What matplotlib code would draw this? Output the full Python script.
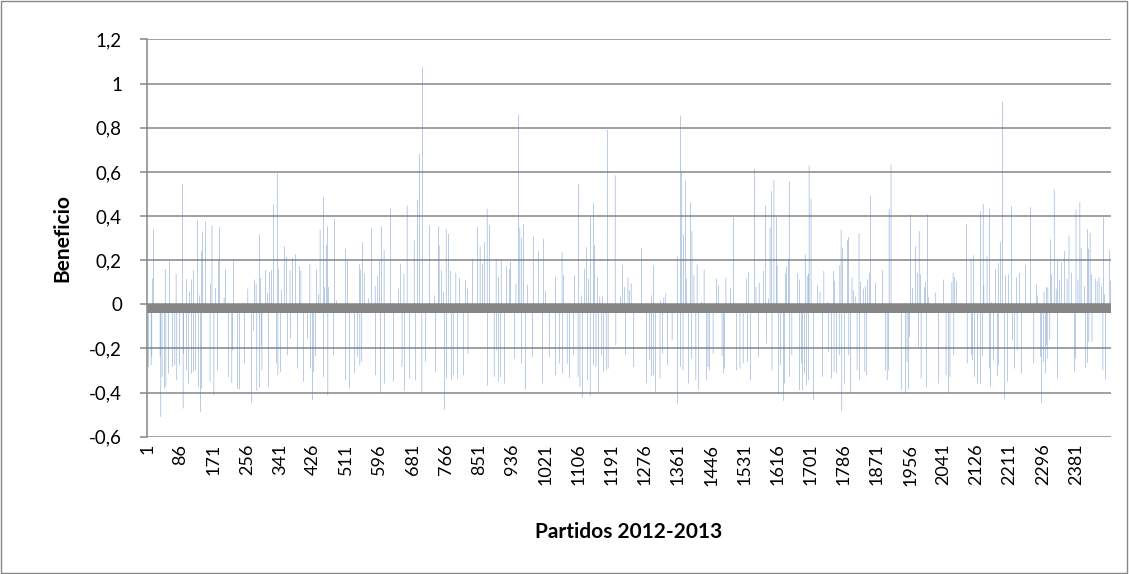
import numpy as np
import matplotlib
matplotlib.use("Agg")
import matplotlib.pyplot as plt
from matplotlib.patches import Rectangle

# Number of matches on the category axis
n_partidos = 2470

# Category labels shown on the x axis (every 85th match)
etiquetas_x = [1, 86, 171, 256, 341, 426, 511, 596, 681, 766, 851, 936, 1021,
               1106, 1191, 1276, 1361, 1446, 1531, 1616, 1701, 1786, 1871,
               1956, 2041, 2126, 2211, 2296, 2381]
etiquetas_y = [-0.6, -0.4, -0.2, 0, 0.2, 0.4, 0.6, 0.8, 1, 1.2]

# (match number, profit); other matches ~0
picos = [
    (4, -0.284), (11, -0.276), (13, -0.238), (15, 0.116), (17, 0.34), (34, -0.238),
    (36, -0.51), (39, -0.329), (45, -0.382), (47, 0.16), (49, -0.374), (56, -0.314),
    (58, 0.196), (66, -0.284), (72, -0.276), (75, 0.139), (77, -0.344), (83, -0.276),
    (91, 0.546), (93, -0.472), (94, -0.223), (101, 0.113), (102, -0.299), (107, -0.359),
    (109, 0.056), (114, -0.314), (115, 0.113), (119, 0.154), (120, -0.306), (125, -0.299),
    (130, 0.38), (133, -0.374), (135, 0.04), (138, -0.487), (140, -0.382), (141, 0.241),
    (143, 0.33), (150, 0.376), (162, -0.351), (163, 0.094), (167, 0.357), (172, -0.412),
    (176, 0.074), (181, -0.299), (183, 0.207), (186, 0.35),
    (198, 0.03), (201, 0.161), (210, -0.329), (218, -0.356), (220, -0.208), (222, 0.199),
    (232, -0.382), (237, -0.386), (251, -0.268), (259, 0.071), (268, -0.446), (273, -0.118),
    (276, 0.112), (280, 0.094), (282, -0.392), (288, 0.317), (289, -0.377), (292, 0.119),
    (293, -0.186), (295, -0.299), (304, 0.157), (309, 0.053), (312, -0.374), (314, 0.146),
    (319, 0.154), (324, 0.452), (333, -0.268), (334, 0.594), (336, -0.321), (338, 0.161),
    (343, -0.306), (345, 0.066), (352, 0.264), (358, 0.214), (360, -0.231), (367, 0.154),
    (369, -0.155), (374, 0.21), (381, 0.225), (386, -0.291), (391, 0.172), (395, 0.151),
    (401, -0.351), (411, -0.155), (418, 0.184), (419, -0.291), (425, -0.434), (428, -0.306),
    (433, -0.235), (435, 0.158), (440, 0.045), (444, 0.338), (452, 0.486), (453, -0.329),
    (456, 0.078), (461, 0.267), (463, 0.353), (464, -0.412), (466, 0.078), (478, -0.231),
    (481, 0.388), (486, 0.018), (509, 0.252), (510, -0.344), (514, 0.199), (519, -0.382),
    (533, -0.311), (539, -0.238), (545, 0.181), (546, -0.276), (548, 0.157), (551, -0.261),
    (552, 0.282), (557, 0.139), (568, 0.026), (575, 0.347), (585, 0.083), (586, -0.321),
    (592, 0.127), (597, 0.199), (599, -0.401), (601, 0.353),
    (608, 0.247), (609, -0.359), (625, 0.433), (632, -0.351), (645, 0.071), (650, 0.184),
    (654, -0.284), (659, 0.139), (660, -0.392), (667, 0.448), (674, -0.336), (685, 0.29),
    (688, -0.344), (693, 0.474), (698, 0.682), (705, -0.397), (706, 1.074), (715, -0.261),
    (724, 0.357), (737, 0.04), (739, -0.306), (747, 0.354), (749, 0.267), (755, 0.154),
    (760, 0.056), (762, -0.477), (767, 0.34), (768, -0.336), (773, 0.32), (779, 0.151),
    (780, -0.344), (785, -0.321), (792, 0.143), (797, -0.336), (802, 0.119),
    (811, -0.321), (816, 0.109), (821, 0.071), (823, -0.223), (835, 0.207), (847, 0.35),
    (854, 0.262), (860, 0.184), (865, 0.282), (872, 0.433), (873, -0.367), (878, 0.357),
    (890, -0.329), (895, 0.207), (896, -0.208), (901, 0.124), (902, -0.351), (907, -0.329),
    (908, 0.199), (917, -0.359), (922, 0.172), (929, 0.161), (932, 0.192), (943, -0.246),
    (946, 0.094), (953, 0.86), (956, 0.347), (960, -0.268), (961, 0.302), (965, 0.365),
    (970, -0.386), (975, 0.089), (989, -0.238), (990, 0.309), (1003, 0.241),
    (1014, -0.359), (1016, 0.297), (1021, 0.06), (1031, -0.238), (1047, 0.124), (1048, -0.321),
    (1057, -0.268), (1064, 0.237), (1065, -0.314), (1067, 0.131), (1077, -0.268), (1083, -0.332),
    (1093, -0.231), (1096, 0.131), (1105, -0.329), (1106, 0.546), (1110, -0.374), (1113, 0.04),
    (1116, -0.422), (1122, 0.161), (1127, 0.259), (1129, -0.344), (1132, 0.116), (1136, -0.416),
    (1137, 0.395), (1144, 0.46), (1145, -0.276), (1147, 0.267), (1151, -0.284), (1154, 0.124),
    (1158, -0.397), (1161, 0.036), (1166, -0.231), (1168, 0.036), (1171, -0.306), (1177, -0.299),
    (1180, 0.79), (1182, -0.291), (1200, 0.584), (1202, -0.186), (1214, 0.036),
    (1219, 0.176), (1224, 0.078), (1226, -0.231), (1233, 0.121), (1236, 0.063), (1241, 0.094),
    (1248, -0.284), (1267, 0.256), (1281, -0.356), (1289, -0.253), (1293, 0.04), (1294, -0.326),
    (1298, -0.321), (1299, 0.176), (1303, -0.397), (1315, -0.336), (1317, 0.018), (1322, -0.223),
    (1325, 0.03), (1330, 0.048), (1334, -0.276), (1346, -0.163), (1359, 0.217), (1360, -0.449),
    (1367, -0.284), (1368, 0.855), (1371, 0.599), (1374, -0.299), (1375, 0.317), (1380, 0.561),
    (1383, 0.116), (1388, -0.359), (1393, 0.463), (1395, -0.246), (1397, 0.332), (1402, 0.131),
    (1407, -0.344), (1410, 0.181), (1414, -0.389), (1421, 0.011),
    (1428, 0.157), (1434, -0.341), (1438, -0.284), (1441, -0.299), (1451, -0.223), (1460, 0.116),
    (1465, 0.086), (1474, -0.235), (1477, -0.314), (1481, -0.291), (1484, 0.121), (1496, 0.075),
    (1503, 0.395), (1511, -0.299), (1520, -0.291), (1528, -0.268), (1537, 0.116), (1539, -0.261),
    (1542, 0.146), (1547, -0.344), (1557, 0.614), (1561, 0.078), (1568, -0.238), (1569, 0.098),
    (1580, 0.151), (1585, 0.448), (1588, -0.178), (1593, 0.026), (1597, 0.347), (1600, 0.513),
    (1602, -0.299), (1607, 0.564), (1614, 0.395), (1615, 0.176), (1619, -0.404), (1624, -0.276),
    (1631, -0.437), (1634, -0.359), (1636, 0.139), (1639, 0.172), (1644, 0.207), (1646, 0.558),
    (1647, -0.329), (1653, -0.231), (1667, 0.139), (1672, -0.389), (1673, 0.112), (1677, -0.268),
    (1680, -0.389), (1685, -0.314), (1687, 0.225), (1690, -0.367), (1692, 0.127), (1695, -0.344),
    (1696, 0.139), (1697, 0.629), (1702, 0.478), (1709, -0.434), (1718, 0.086), (1725, 0.056),
    (1731, -0.329), (1735, 0.151), (1745, 0.011), (1747, -0.216), (1754, -0.336), (1759, 0.151),
    (1761, -0.306), (1762, 0.106), (1767, -0.314), (1774, -0.231), (1776, 0.176), (1779, 0.338),
    (1781, -0.483), (1783, 0.256), (1788, -0.359), (1795, 0.29), (1798, 0.305), (1799, -0.231),
    (1803, -0.401), (1807, 0.121), (1810, 0.063), (1815, 0.036), (1820, -0.299), (1825, 0.323),
    (1827, -0.344), (1829, 0.101),
    (1836, 0.071), (1840, -0.306), (1841, 0.081), (1845, -0.321), (1846, 0.112), (1851, 0.143),
    (1855, 0.493), (1868, 0.097), (1885, 0.154), (1892, -0.299), (1897, -0.344), (1901, -0.299),
    (1902, 0.433), (1907, 0.633), (1933, -0.389), (1944, -0.404), (1945, 0.006), (1948, -0.261),
    (1952, -0.386), (1954, -0.148), (1957, 0.407), (1962, 0.074), (1969, 0.262), (1974, 0.143),
    (1978, -0.193), (1979, 0.332), (1983, 0.136), (1984, -0.336), (1993, 0.078), (1996, 0.101),
    (1998, -0.377), (2001, 0.407), (2003, 0.033), (2020, 0.053), (2028, -0.359),
    (2041, 0.112), (2048, -0.321), (2054, -0.401), (2058, -0.329), (2063, 0.101), (2066, 0.143),
    (2068, -0.231), (2070, 0.124), (2075, 0.106), (2101, 0.365), (2102, -0.268), (2112, 0.207),
    (2113, -0.231), (2116, -0.253), (2118, 0.222), (2121, -0.329), (2128, -0.359), (2136, 0.422),
    (2137, -0.362), (2141, -0.235), (2143, 0.456), (2145, 0.086), (2153, 0.217), (2159, 0.433),
    (2160, -0.291), (2162, -0.374), (2164, 0.011), (2169, -0.253), (2174, 0.161), (2179, -0.326),
    (2182, -0.276), (2183, 0.187), (2188, 0.282), (2192, 0.919), (2197, -0.431), (2200, 0.131),
    (2205, -0.351), (2208, 0.136), (2215, 0.445), (2218, -0.163), (2224, -0.291), (2229, 0.121),
    (2230, -0.208), (2237, 0.143), (2241, -0.314),
    (2251, 0.176), (2264, 0.44), (2273, -0.268), (2280, 0.09), (2283, 0.04), (2290, -0.238),
    (2292, -0.449), (2297, -0.261), (2299, 0.056), (2302, -0.314), (2305, 0.078), (2306, -0.186),
    (2307, -0.246), (2309, 0.075), (2314, -0.16), (2316, 0.294), (2319, 0.136), (2325, 0.52),
    (2330, 0.071), (2333, -0.336), (2334, 0.196), (2338, 0.109), (2343, 0.187), (2351, 0.241),
    (2358, 0.116), (2363, 0.312), (2369, 0.143), (2377, -0.306), (2379, -0.246), (2381, 0.43),
    (2386, 0.112), (2391, 0.463), (2394, 0.256), (2403, 0.081), (2406, -0.287), (2410, -0.265),
    (2411, 0.34), (2413, 0.252), (2414, -0.17), (2417, 0.324), (2421, 0.136), (2422, -0.17),
    (2430, 0.116), (2435, 0.106), (2440, 0.124), (2447, 0.081), (2450, -0.299), (2451, 0.395),
    (2454, 0.045), (2456, -0.341), (2466, 0.247), (2469, 0.106),
]

partidos = np.arange(1, n_partidos + 1)
beneficio = np.zeros(n_partidos)
for p, v in picos:
    beneficio[p - 1] = v

gris = '#868686'
plt.rcParams['font.family'] = ['Lato', 'DejaVu Sans']

fig = plt.figure(figsize=(11.29, 5.74), dpi=100)
ax = fig.add_axes([0.1302, 0.2392, 0.8538, 0.692])

# sub-pixel bars, not snapped, so they come out faint like the original
ax.bar(partidos, beneficio, width=1.0, color='#4F81BD', linewidth=0,
       snap=False, antialiased=True, zorder=2)
# thick horizontal axis band just below zero
ax.axhspan(-0.039, 0.003, color=gris, lw=0, zorder=3)

ax.set_xlim(0.5, n_partidos + 0.5)
ax.set_ylim(-0.6, 1.2)

ax.set_yticks(etiquetas_y)
ax.set_yticklabels([f'{v:g}'.replace('.', ',') for v in etiquetas_y], fontsize=13.5)
ax.set_xticks(etiquetas_x)
ax.set_xticklabels([str(v) for v in etiquetas_x], rotation=90, fontsize=13)

ax.yaxis.grid(True, color=gris, lw=1.1)
ax.set_axisbelow(True)
ax.tick_params(axis='x', length=0, pad=5)
ax.tick_params(axis='y', length=5, width=1.1, color=gris, pad=13)

for s in ['top', 'right', 'bottom']:
    ax.spines[s].set_visible(False)
ax.spines['left'].set_color(gris)
ax.spines['left'].set_linewidth(1.1)

ax.set_ylabel('Beneficio', fontsize=15, fontweight='bold', labelpad=12)
ax.set_xlabel('Partidos 2012-2013', fontsize=15, fontweight='bold', labelpad=26)

# chart area border
fig.patches.append(Rectangle((0.0005, 0.001), 0.998, 0.997, transform=fig.transFigure,
                             fill=False, edgecolor=gris, lw=1))

fig.savefig('out.png', dpi=100)
